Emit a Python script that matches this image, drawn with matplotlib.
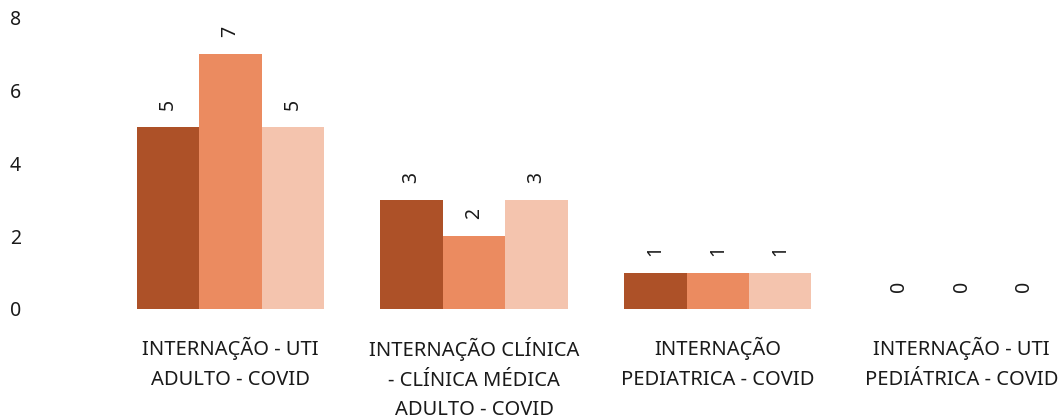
import matplotlib.pyplot as plt
import numpy as np

plt.rcParams['font.family'] = ['Noto Sans', 'DejaVu Sans']

categories = ["INTERNAÇÃO - UTI\nADULTO - COVID",
              "INTERNAÇÃO CLÍNICA\n- CLÍNICA MÉDICA\nADULTO - COVID",
              "INTERNAÇÃO\nPEDIATRICA - COVID",
              "INTERNAÇÃO - UTI\nPEDIÁTRICA - COVID"]
serie_a = [5, 3, 1, 0]
serie_b = [7, 2, 1, 0]
serie_c = [5, 3, 1, 0]
colors = ['#AD5128', '#EB8B60', '#F4C4AE']

fig = plt.figure(figsize=(10.64, 4.17), dpi=100)
ax = fig.add_axes([0.038, 0.259, 0.962, 0.7])

x = np.arange(len(categories))
w = 0.256
for i, (vals, c) in enumerate(zip([serie_a, serie_b, serie_c], colors)):
    pos = x + (i - 1) * w
    ax.bar(pos, vals, width=w, color=c)
    for p, v in zip(pos, vals):
        ax.annotate(str(v), (p, v), xytext=(0, 12), textcoords='offset points',
                    ha='center', va='bottom', rotation=90, fontsize=14, color='#1a1a1a')

ax.set_ylim(0, 8)
ax.set_xlim(-0.779, 3.42)
ax.set_yticks([0, 2, 4, 6, 8])
ax.set_xticks(x)
ax.set_xticklabels(categories, fontsize=14.5, color='#1a1a1a', linespacing=1.65, va='top')
ax.tick_params(axis='y', labelsize=14, labelcolor='#1a1a1a', length=0, pad=14)
ax.tick_params(axis='x', length=0, pad=20)
for s in ax.spines.values():
    s.set_visible(False)

fig.savefig('out.png')
